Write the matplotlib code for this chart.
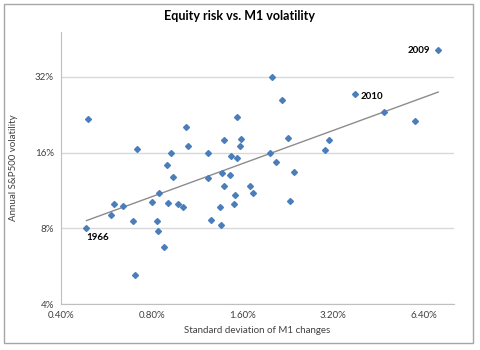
import numpy as np
import matplotlib
matplotlib.use("Agg")
import matplotlib.pyplot as plt
from matplotlib.patches import Rectangle
from matplotlib.ticker import FixedLocator, FuncFormatter, NullLocator

plt.rcParams["font.family"] = ["Lato", "DejaVu Sans"]

# standard deviation of M1 changes (%), annual S&P500 volatility (%)
m1_sd = [0.493, 1.537, 1.042, 1.392, 1.585, 1.573, 1.058, 0.717, 0.929, 1.232,
         1.468, 1.537, 0.901, 0.944, 1.232, 1.371, 1.457, 7.12, 2.007, 2.166,
         3.78, 4.71, 5.97, 2.27, 3.10, 3.01, 1.976, 2.07, 2.37, 1.392,
         1.698, 1.736, 1.514, 0.848, 0.601, 0.640, 0.804, 0.908, 0.980, 1.018,
         1.502, 1.350, 0.584, 0.695, 0.835, 1.26, 1.36, 0.486, 0.842, 0.881,
         0.706, 2.30]
spx_vol = [21.8, 22.2, 20.2, 17.95, 18.1, 17.0, 17.0, 16.5, 15.9, 15.9,
           15.5, 15.2, 14.3, 12.8, 12.7, 13.3, 13.0, 40.9, 32.0, 25.9,
           27.4, 23.2, 21.4, 18.3, 17.95, 16.4, 15.9, 14.7, 13.4, 11.8,
           11.8, 11.05, 10.85, 11.05, 9.99, 9.81, 10.2, 10.1, 9.99, 9.72,
           9.99, 9.72, 9.04, 8.55, 8.55, 8.63, 8.25, 8.02, 7.80, 6.74,
           5.22, 10.3]
labelled = {17: "2009", 20: "2010", 47: "1966"}

x_ticks = [0.4, 0.8, 1.6, 3.2, 6.4]
y_ticks = [4, 8, 16, 32]

x = np.array(m1_sd)
y = np.array(spx_vol)
# power trendline (straight in log-log)
b, a = np.polyfit(np.log(x), np.log(y), 1)
xt = np.array([x.min(), x.max()])
yt = np.exp(a) * xt ** b

fig = plt.figure(figsize=(4.8, 3.5), dpi=100)
ax = fig.add_axes([0.127, 0.131, 0.819, 0.778])

ax.plot(xt, yt, color="#8c8c8c", lw=1.0, zorder=2)
ax.plot(x, y, "D", color="#4a7ebb", ms=3.0, mec="#4a7ebb", zorder=3)

ax.set_xscale("log")
ax.set_yscale("log")
ax.set_xlim(0.4, 8.04)
ax.set_ylim(4, 48.3)
ax.xaxis.set_major_locator(FixedLocator(x_ticks))
ax.yaxis.set_major_locator(FixedLocator(y_ticks))
ax.xaxis.set_minor_locator(NullLocator())
ax.yaxis.set_minor_locator(NullLocator())
ax.xaxis.set_major_formatter(FuncFormatter(lambda v, p: f"{v:.2f}%"))
ax.yaxis.set_major_formatter(FuncFormatter(lambda v, p: f"{v:.0f}%"))
ax.tick_params(length=0, labelsize=7, colors="#404040", pad=5)
ax.grid(axis="y", color="#d9d9d9", lw=1)
ax.set_axisbelow(True)
for s in ["top", "right"]:
    ax.spines[s].set_visible(False)
for s in ["left", "bottom"]:
    ax.spines[s].set_color("#bfbfbf")

ax.set_xlabel("Standard deviation of M1 changes", fontsize=7, color="#404040", labelpad=4)
ax.set_ylabel("Annual S&P500 volatility", fontsize=7, color="#404040", labelpad=12)
fig.text(0.5, 0.953, "Equity risk vs. M1 volatility", ha="center", va="center",
         fontsize=9, fontweight="bold")

ax.annotate(labelled[17], (x[17], y[17]), xytext=(-6, 0), textcoords="offset points",
            ha="right", va="center", fontsize=7, fontweight="bold")
ax.annotate(labelled[20], (x[20], y[20]), xytext=(4, -2), textcoords="offset points",
            ha="left", va="center", fontsize=7, fontweight="bold")
ax.annotate(labelled[47], (x[47], y[47]), xytext=(0, -7), textcoords="offset points",
            ha="left", va="center", fontsize=7, fontweight="bold")

fig.patches.append(Rectangle((0.008, 0.02), 0.978, 0.97, transform=fig.transFigure,
                             fill=False, edgecolor="#a6a6a6", lw=1))

fig.savefig("out.png", dpi=100)
